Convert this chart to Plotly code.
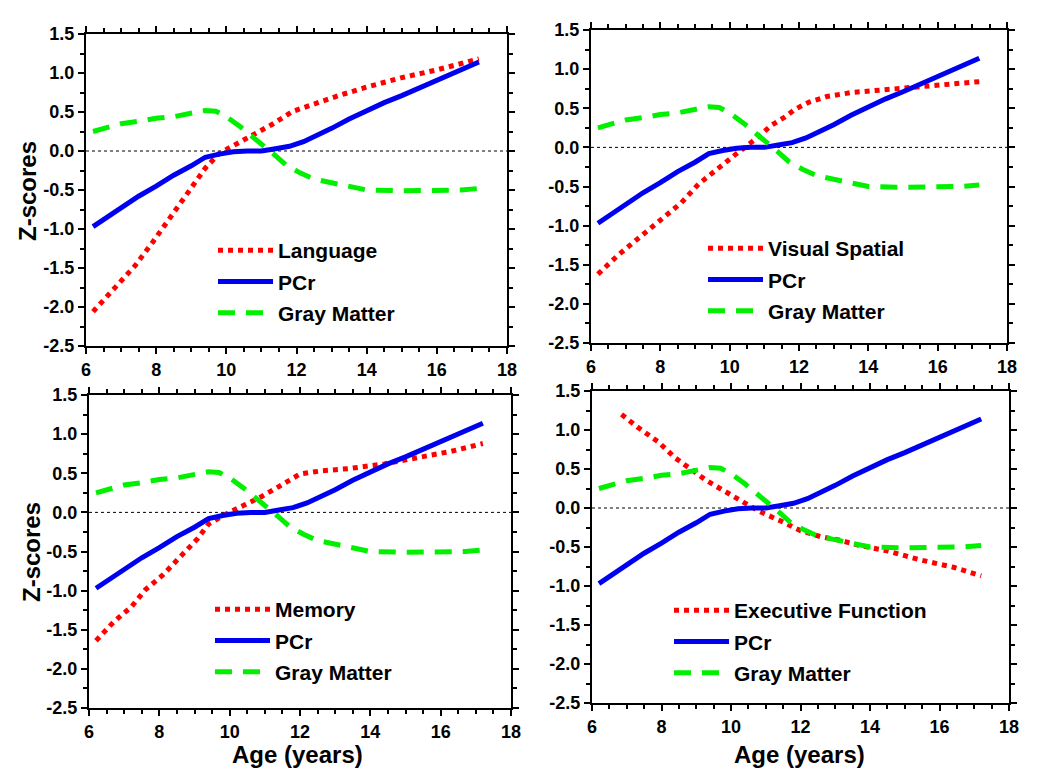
import plotly.graph_objects as go

# ---------------- data ----------------
pcr_age = [6.2, 6.6, 7.0, 7.5, 8.0, 8.5, 9.0, 9.4, 9.8, 10.2, 10.6, 11.0, 11.4, 11.8,
           12.2, 12.6, 13.0, 13.5, 14.0, 14.5, 15.0, 15.5, 16.0, 16.5, 17.2]
pcr_z = [-0.97, -0.85, -0.73, -0.58, -0.45, -0.31, -0.19, -0.08, -0.04, -0.01, 0.0, 0.0,
         0.03, 0.06, 0.12, 0.20, 0.29, 0.41, 0.52, 0.62, 0.71, 0.81, 0.91, 1.01, 1.14]

gm_age = [6.2, 6.5, 7.0, 7.5, 8.0, 8.5, 9.0, 9.4, 9.7, 10.0, 10.4, 10.8, 11.1, 11.4,
          11.7, 12.1, 12.5, 13.0, 13.5, 14.0, 15.0, 16.0, 16.7, 17.2]
gm_z = [0.25, 0.29, 0.35, 0.38, 0.42, 0.44, 0.49, 0.52, 0.51, 0.44, 0.31, 0.17, 0.05,
        -0.06, -0.18, -0.28, -0.36, -0.41, -0.46, -0.50, -0.51, -0.51, -0.50, -0.48]

lang_age = [6.2, 6.8, 7.4, 7.9, 8.5, 9.0, 9.4, 9.8, 10.2, 10.8, 11.3, 11.9, 12.6, 13.2,
            14.0, 15.0, 16.0, 17.2]
lang_z = [-2.06, -1.76, -1.47, -1.17, -0.78, -0.48, -0.22, -0.03, 0.07, 0.21, 0.34,
          0.51, 0.62, 0.71, 0.82, 0.94, 1.04, 1.18]

vis_age = [6.2, 6.8, 7.4, 8.0, 8.6, 9.1, 9.7, 10.2, 10.7, 11.2, 11.6, 11.9, 12.3, 12.8,
           13.5, 14.5, 15.5, 16.4, 17.2]
vis_z = [-1.62, -1.37, -1.15, -0.93, -0.71, -0.47, -0.25, -0.08, 0.09, 0.28, 0.39, 0.49,
         0.58, 0.65, 0.70, 0.74, 0.77, 0.81, 0.84]

mem_age = [6.2, 6.7, 7.2, 7.6, 8.1, 8.6, 9.1, 9.4, 9.9, 10.4, 10.9, 11.4, 12.0, 12.6,
           13.4, 14.4, 15.3, 16.3, 17.2]
mem_z = [-1.64, -1.40, -1.21, -0.99, -0.80, -0.57, -0.33, -0.15, -0.02, 0.09, 0.20,
         0.33, 0.49, 0.53, 0.56, 0.62, 0.70, 0.78, 0.88]

exe_age = [6.85, 7.3, 7.9, 8.4, 8.9, 9.3, 9.8, 10.3, 10.8, 11.4, 12.0, 12.6, 13.1, 13.7,
           14.5, 15.4, 16.4, 17.2]
exe_z = [1.20, 1.04, 0.85, 0.64, 0.48, 0.35, 0.22, 0.09, -0.04, -0.16, -0.29, -0.37,
         -0.41, -0.48, -0.55, -0.66, -0.76, -0.87]

domain_names = ["Language", "Visual Spatial", "Memory", "Executive Function"]
domain_ages = [lang_age, vis_age, mem_age, exe_age]
domain_scores = [lang_z, vis_z, mem_z, exe_z]

pcr_name = "PCr"
gm_name = "Gray Matter"

x_tick_vals = [6, 8, 10, 12, 14, 16, 18]
x_tick_text = ["6", "8", "10", "12", "14", "16", "18"]
y_tick_vals = [-2.5, -2.0, -1.5, -1.0, -0.5, 0.0, 0.5, 1.0, 1.5]
y_tick_text = ["-2.5", "-2.0", "-1.5", "-1.0", "-0.5", "0.0", "0.5", "1.0", "1.5"]

x_title = "Age (years)"
y_title = "Z-scores"

# ---------------- layout geometry (pixels -> paper) ----------------
W, H = 1050, 777
# (x0, x1, ytop, ybottom) in pixels for each panel
panel_px = [
    (86, 507, 34, 346),
    (591, 1007, 30, 343),
    (89, 511, 395, 708),
    (592, 1009, 391, 703),
]
# legend anchor (sample-line start x, first row centre y) in pixels
legend_px = [
    (210, 251),
    (700, 249),
    (207, 610),
    (666, 611),
]

FONT = "Liberation Sans"

fig = go.Figure()

for i in range(4):
    k = "" if i == 0 else str(i + 1)
    xa, ya = "x" + k, "y" + k
    leg = "legend" if i == 0 else "legend" + str(i + 1)
    fig.add_trace(go.Scatter(
        x=domain_ages[i], y=domain_scores[i], mode="lines", name=domain_names[i],
        line=dict(color="#FF0000", width=5, dash="dot"),
        xaxis=xa, yaxis=ya, legend=leg, legendgroup=f"r{i}", legendrank=1))
    fig.add_trace(go.Scatter(
        x=pcr_age, y=pcr_z, mode="lines", name=pcr_name,
        line=dict(color="#0000F0", width=5),
        xaxis=xa, yaxis=ya, legend=leg, legendgroup=f"b{i}", legendrank=2))
    fig.add_trace(go.Scatter(
        x=gm_age, y=gm_z, mode="lines", name=gm_name,
        line=dict(color="#00F000", width=5, dash="17px,11px"),
        xaxis=xa, yaxis=ya, legend=leg, legendgroup=f"g{i}", legendrank=3))

tickfont = dict(family=FONT, size=18, color="black", weight="bold")

layout = dict(
    width=W, height=H,
    margin=dict(l=0, r=0, t=0, b=0, autoexpand=False),
    paper_bgcolor="white", plot_bgcolor="white",
    showlegend=True,
    annotations=[], shapes=[],
)

for i, (x0, x1, yt, yb) in enumerate(panel_px):
    k = "" if i == 0 else str(i + 1)
    layout["xaxis" + k] = dict(
        domain=[x0 / W, x1 / W], anchor="y" + k, range=[6, 18], automargin=False,
        tickmode="array", tickvals=x_tick_vals, ticktext=x_tick_text,
        ticks="outside", ticklen=6, tickwidth=2, tickcolor="black",
        showline=True, linewidth=2, linecolor="black", mirror="allticks",
        showgrid=False, zeroline=False, tickfont=tickfont,
        minor=dict(tickmode="linear", tick0=6, dtick=0.5, ticks="outside",
                   ticklen=4, tickwidth=1.5, tickcolor="black", showgrid=False),
    )
    layout["yaxis" + k] = dict(
        domain=[1 - yb / H, 1 - yt / H], anchor="x" + k, range=[-2.5, 1.5], automargin=False,
        tickmode="array", tickvals=y_tick_vals, ticktext=y_tick_text,
        ticks="outside", ticklen=6, tickwidth=2, tickcolor="black",
        showline=True, linewidth=2, linecolor="black", mirror="allticks",
        showgrid=False, zeroline=False, tickfont=tickfont,
        minor=dict(tickmode="linear", tick0=-2.5, dtick=0.25, ticks="outside",
                   ticklen=4, tickwidth=1.5, tickcolor="black", showgrid=False),
    )
    # dotted zero reference line
    layout["shapes"].append(dict(
        type="line", xref=("x" + k) + " domain", x0=0, x1=1,
        yref="y" + k, y0=0, y1=0,
        line=dict(color="black", width=1, dash="dot"), layer="below"))

    lx, ly = legend_px[i]
    lname = "legend" if i == 0 else "legend" + str(i + 1)
    layout[lname] = dict(
        x=(lx + 3) / W, y=1 - (ly - 21) / H, xanchor="left", yanchor="top",
        xref="paper", yref="paper",
        bgcolor="rgba(0,0,0,0)", borderwidth=0,
        font=dict(family=FONT, size=21, color="black", weight="bold"),
        itemwidth=55, tracegroupgap=1, traceorder="grouped",
    )

title_font = dict(family=FONT, size=24, color="black", weight="bold")
# y titles (left panels)
layout["annotations"].append(dict(
    text=y_title, textangle=-90, x=27 / W, y=1 - 191 / H, xref="paper", yref="paper",
    xanchor="center", yanchor="middle", showarrow=False, font=title_font))
layout["annotations"].append(dict(
    text=y_title, textangle=-90, x=31 / W, y=1 - 552 / H, xref="paper", yref="paper",
    xanchor="center", yanchor="middle", showarrow=False, font=title_font))
# x titles (bottom panels)
layout["annotations"].append(dict(
    text=x_title, x=297 / W, y=1 - 754 / H, xref="paper", yref="paper",
    xanchor="center", yanchor="middle", showarrow=False, font=title_font))
layout["annotations"].append(dict(
    text=x_title, x=799 / W, y=1 - 754 / H, xref="paper", yref="paper",
    xanchor="center", yanchor="middle", showarrow=False, font=title_font))

fig.update_layout(**layout)
fig.write_html("out.html",
               config={"displayModeBar": False},
               post_script="document.body.style.margin='0px';"
                           "document.body.style.overflow='hidden';")
